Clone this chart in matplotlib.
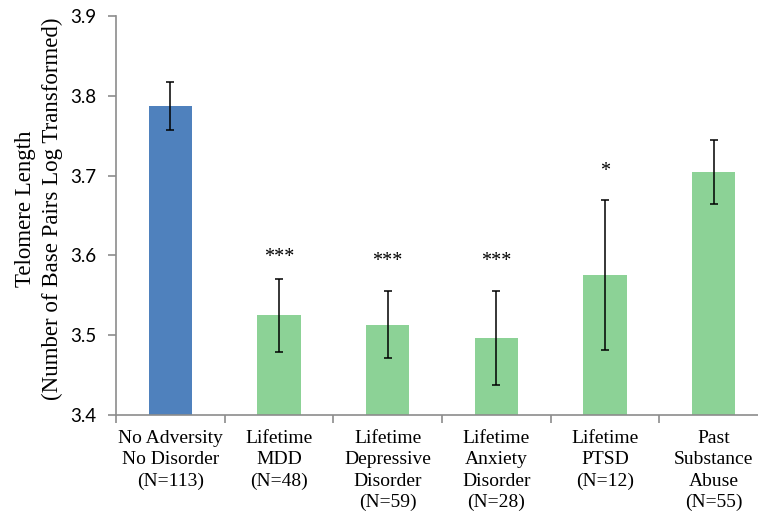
import matplotlib
matplotlib.use("Agg")
import matplotlib.pyplot as plt
import numpy as np

# Data
groups = ["No Adversity\nNo Disorder\n(N=113)",
          "Lifetime\nMDD\n(N=48)",
          "Lifetime\nDepressive\nDisorder\n(N=59)",
          "Lifetime\nAnxiety\nDisorder\n(N=28)",
          "Lifetime\nPTSD\n(N=12)",
          "Past\nSubstance\nAbuse\n(N=55)"]
means = [3.787, 3.525, 3.513, 3.497, 3.575, 3.705]
errors = [0.030, 0.046, 0.042, 0.059, 0.094, 0.040]
stars = ["", "***", "***", "***", "*", ""]
star_y = [None, 3.586, 3.580, 3.580, 3.693, None]
yticks = [3.4, 3.5, 3.6, 3.7, 3.8, 3.9]

blue = "#4F81BD"
green = "#8CD296"
axis_grey = "#8C8C8C"
colors = [blue] + [green] * (len(groups) - 1)

fig = plt.figure(figsize=(7.58, 5.15), dpi=100)
# axes run a bit past the right edge, as in the cropped original
ax = fig.add_axes([116 / 758, 100 / 515, 652 / 758, 399 / 515])

x = np.arange(len(groups))
ax.bar(x, means, width=0.40, color=colors, zorder=2)
ax.errorbar(x, means, yerr=errors, fmt="none", ecolor="black",
            elinewidth=1.1, capsize=3, capthick=1.1, zorder=3)

for xi, s, sy in zip(x, stars, star_y):
    if s:
        ax.text(xi, sy, s, ha="center", va="bottom",
                fontsize=14.5, family="Liberation Serif")

ax.set_xlim(-0.5, len(groups) - 0.5)
ax.set_ylim(3.4, 3.9)
ax.set_yticks(yticks)
ax.set_yticklabels([f"{t:.1f}" for t in yticks], family="Lato", fontsize=13.5)
ax.set_xticks(np.arange(len(groups) + 1) - 0.5, minor=False)
ax.set_xticklabels([])
ax.set_xticks(x, minor=True)
ax.set_xticklabels(groups, minor=True, family="Liberation Serif",
                   fontsize=14, linespacing=1.32, va="top")
ax.tick_params(axis="x", which="minor", length=0, pad=11)
ax.tick_params(axis="x", which="major", length=6, color=axis_grey, width=1.2)
ax.tick_params(axis="y", length=6, color=axis_grey, width=1.2, pad=8)

for side in ["top", "right"]:
    ax.spines[side].set_visible(False)
for side in ["left", "bottom"]:
    ax.spines[side].set_color(axis_grey)
    ax.spines[side].set_linewidth(1.2)

fig.text(39 / 758, 1 - 209 / 515,
         "Telomere Length\n(Number of Base Pairs Log Transformed)",
         family="Liberation Serif", fontsize=16.5, linespacing=1.35,
         rotation=90, ha="center", va="center", multialignment="center")

fig.savefig("out.png", dpi=100)
